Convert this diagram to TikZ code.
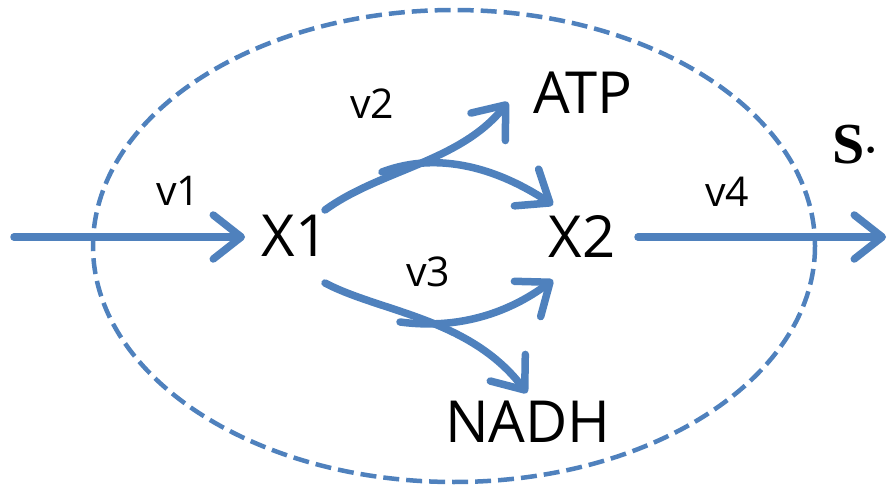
\documentclass[tikz,border=0pt]{standalone}
\usepackage{fontspec}
\setmainfont{Open Sans}
\newfontfamily\serifb{Liberation Serif}
\usetikzlibrary{arrows.meta}
\definecolor{flowblue}{RGB}{79,129,189}
\begin{document}
\begin{tikzpicture}[x=1pt,y=-1pt,
  flow/.style={draw=flowblue, line width=7.5pt, line cap=round, line join=round,
    -{Straight Barb[length=28pt,width=44pt,line cap=round,line join=round]}},
  big/.style={inner sep=0pt, font=\fontsize{58}{60}\selectfont},
  small/.style={inner sep=0pt, font=\fontsize{41}{43}\selectfont}]
\useasboundingbox (0,0) rectangle (889,489);
\draw[flowblue, line width=4.5pt, dash pattern=on 16pt off 7pt] (454,246) ellipse [x radius=361, y radius=236];
\node[big] (x1) at (295,236) {X1};
\node[big] (x2) at (582,237) {X2};
\node[big] (atp) at (583,93) {ATP};
\node[big] (nadh) at (528,422) {NADH};
\node[small] (v1) at (178,191) {v1};
\node[small] (v2) at (372,104) {v2};
\node[small] (v3) at (428,272) {v3};
\node[small] (v4) at (727,192) {v4};
\node[inner sep=0pt, font=\serifb\bfseries\fontsize{58}{60}\selectfont] (s) at (855,145) {S{\fontsize{40}{40}\selectfont\textperiodcentered}};
\coordinate (in) at (14,237);
\coordinate (out) at (886,237);
\coordinate (a1) at (325,210);
\coordinate (a2) at (382,172);
\coordinate (b1) at (325,283);
\coordinate (b2) at (400,322);
\coordinate (atptip) at (508,102);
\coordinate (x2up) at (553,205);
\coordinate (x2lo) at (553,280);
\coordinate (nadhtip) at (527,393);
\coordinate (x1w) at (245,237);
\coordinate (x2e) at (638,237);
\draw[flow] (in) -- (x1w);
\draw[flow] (x2e) -- (out);
\draw[flow] (a1) .. controls (380,170) and (460,162) .. (atptip);
\draw[flow] (a2) .. controls (440,150) and (500,170) .. (x2up);
\draw[flow] (b1) .. controls (380,312) and (470,318) .. (nadhtip);
\draw[flow] (b2) .. controls (460,330) and (510,312) .. (x2lo);
\end{tikzpicture}
\end{document}
